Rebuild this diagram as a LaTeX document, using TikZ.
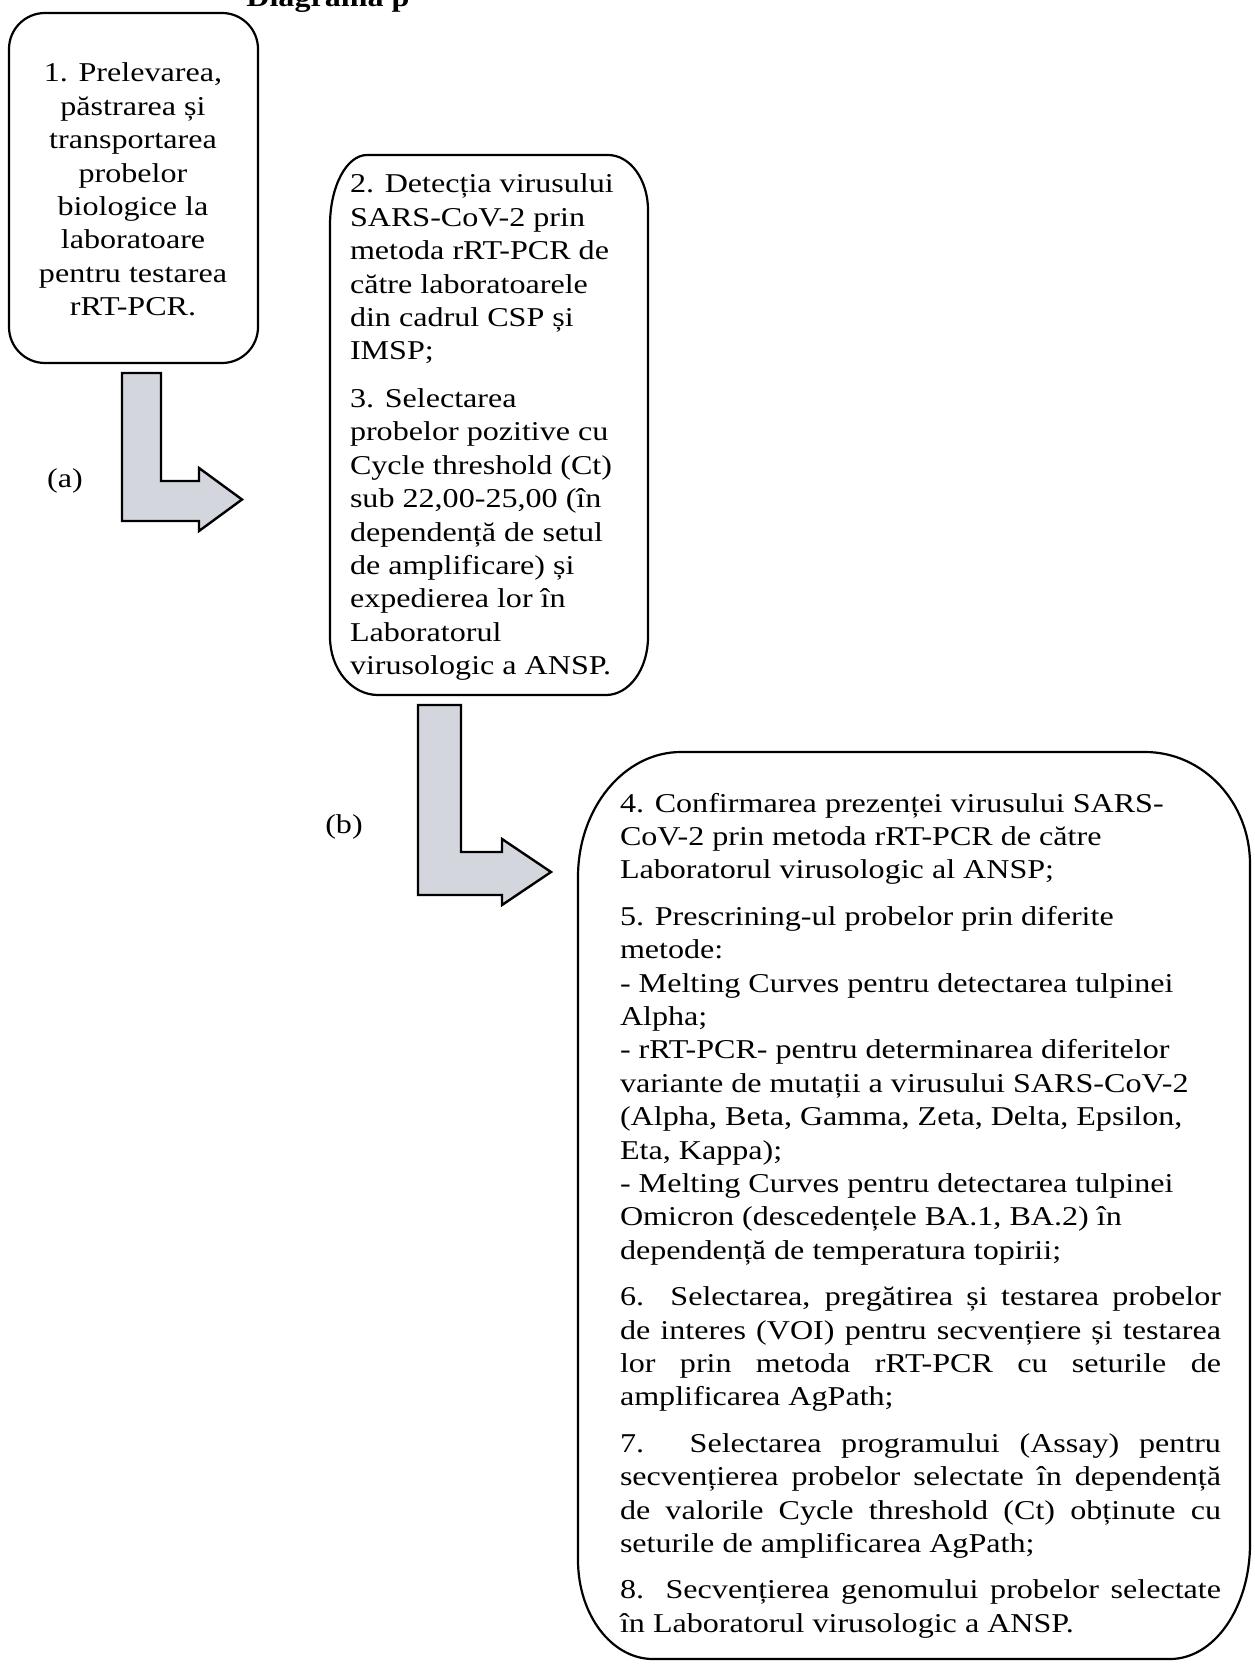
\documentclass[tikz,border=0pt]{standalone}
\usepackage{fontspec}
\setmainfont{Liberation Serif}[FakeStretch=1.18]
\definecolor{arrowgray}{RGB}{212,214,222}
\newcommand{\bodyfont}{\fontsize{13.6pt}{16.7pt}\selectfont}
\newlength{\jw}\setlength{\jw}{300.5pt}
\newcommand{\jline}[1]{\makebox[\jw][s]{#1}}
\begin{document}
\begin{tikzpicture}[x=0.5pt,y=-0.5pt,
  boxline/.style={draw=black,line width=1.1pt},
  blockarrow/.style={draw=black,line width=1.2pt,fill=arrowgray,line join=miter},
  txt/.style={inner sep=0pt,outer sep=0pt,font=\bodyfont},
]
\useasboundingbox (0,0) rectangle (1254,1664);

% title (cut off at the top edge)
\node[inner sep=0pt,anchor=base west,font=\bodyfont\bfseries] (title) at (246,7) {Diagrama p};

% box 1
\draw[boxline,rounded corners=18pt] (9,13) rectangle (258,363);
\node[txt,anchor=base] (t1) at (133,82) {\parbox[t]{120pt}{\bodyfont\centering
1. Prelevarea,\\ păstrarea și\\ transportarea\\ probelor\\ biologice la\\ laboratoare\\ pentru testarea\\ rRT-PCR.}};

% box 2
\draw[boxline] (367,155) -- (608,155)
  .. controls (630.1,155) and (648,179.6) .. (648,210)
  -- (648,637)
  .. controls (648,669) and (629.2,695) .. (606,695)
  -- (378,695)
  .. controls (351.5,695) and (330,669) .. (330,637)
  -- (330,225)
  .. controls (330,186.3) and (346.6,155) .. (367,155) -- cycle;
\node[txt,anchor=base west] (t2) at (350,193) {\parbox[t]{150pt}{\bodyfont\raggedright
2. Detecția virusului\\ SARS-CoV-2 prin\\ metoda rRT-PCR de\\ către laboratoarele\\ din cadrul CSP și\\ IMSP;\\[7pt]
3. Selectarea\\ probelor pozitive cu\\ Cycle threshold (Ct)\\ sub 22,00-25,00 (în\\ dependență de setul\\ de amplificare) și\\ expedierea lor în\\ Laboratorul\\ virusologic a ANSP.}};

% box 3
\draw[boxline] (681,752) -- (1145,752)
  .. controls (1203,752) and (1250,802.1) .. (1250,864)
  -- (1250,1544)
  .. controls (1250,1607.5) and (1214.2,1659) .. (1170,1659)
  -- (653,1659)
  .. controls (611.6,1659) and (578,1614.7) .. (578,1560)
  -- (578,877)
  .. controls (578,808) and (624.1,752) .. (681,752) -- cycle;
\node[txt,anchor=base west] (t3) at (620,812) {\parbox[t]{\jw}{\bodyfont\raggedright
4. Confirmarea prezenței virusului SARS-\\
CoV-2 prin metoda rRT-PCR de către\\
Laboratorul virusologic al ANSP;\\[6.5pt]
5. Prescrining-ul probelor prin diferite\\
metode:\\
- Melting Curves pentru detectarea tulpinei\\
Alpha;\\
- rRT-PCR- pentru determinarea diferitelor\\
variante de mutații a virusului SARS-CoV-2\\
(Alpha, Beta, Gamma, Zeta, Delta, Epsilon,\\
Eta, Kappa);\\
- Melting Curves pentru detectarea tulpinei\\
Omicron (descedențele BA.1, BA.2) în\\
dependență de temperatura topirii;\\[6.5pt]
\jline{6. Selectarea, pregătirea și testarea probelor}\\
\jline{de interes (VOI) pentru secvențiere și testarea}\\
\jline{lor prin metoda rRT-PCR cu seturile de}\\
amplificarea AgPath;\\[6.5pt]
\jline{7. Selectarea programului (Assay) pentru}\\
\jline{secvențierea probelor selectate în dependență}\\
\jline{de valorile Cycle threshold (Ct) obținute cu}\\
seturile de amplificarea AgPath;\\[6.5pt]
\jline{8. Secvențierea genomului probelor selectate}\\
în Laboratorul virusologic a ANSP.}};

% block arrows
\draw[blockarrow] (122,373) -- (161,373) -- (161,481) -- (199,481) -- (199,468)
  -- (242,499.5) -- (199,531) -- (199,521) -- (122,521) -- cycle;
\draw[blockarrow] (418,705) -- (461,705) -- (461,852) -- (502,852) -- (502,839)
  -- (551,872) -- (502,905) -- (502,895) -- (418,895) -- cycle;

% labels
\node[txt] (la) at (65,481) {(a)};
\node[txt] (lb) at (344,827) {(b)};
\end{tikzpicture}
\end{document}
